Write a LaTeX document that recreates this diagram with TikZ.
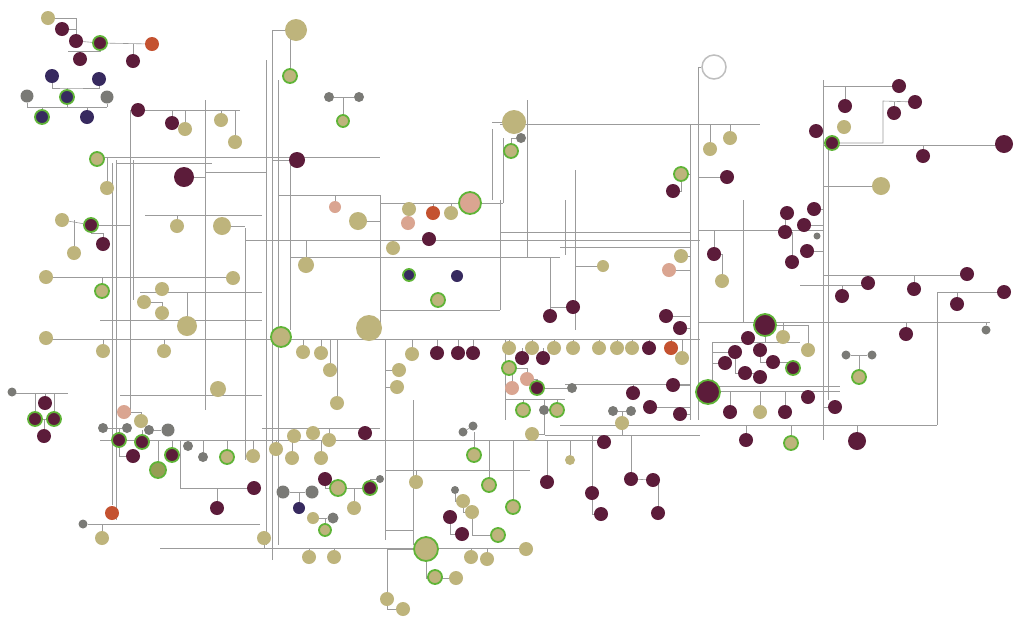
\documentclass[tikz,border=0pt]{standalone}
\usetikzlibrary{backgrounds}
\definecolor{cmar}{RGB}{92,28,58}
\definecolor{ctan}{RGB}{190,180,124}
\definecolor{cnav}{RGB}{55,42,95}
\definecolor{cgry}{RGB}{122,122,118}
\definecolor{corg}{RGB}{196,82,48}
\definecolor{cpnk}{RGB}{218,165,145}
\definecolor{colv}{RGB}{150,158,85}
\definecolor{cgrn}{RGB}{95,180,55}
\definecolor{cwr}{RGB}{190,190,190}
\definecolor{cln}{RGB}{155,155,155}
\newcommand\bus[5]{\coordinate (#1a) at (#2,#3); \coordinate (#1b) at (#4,#5); \draw[ln] (#1a) -- (#1b);}
\tikzset{
 sBase/.style={circle,inner sep=0pt,minimum size=14pt},
 sMar/.style={sBase,fill=cmar},
 sTan/.style={sBase,fill=ctan},
 sNav/.style={sBase,fill=cnav},
 sGry/.style={sBase,fill=cgry,minimum size=10pt},
 sOrg/.style={sBase,fill=corg},
 sPnk/.style={sBase,fill=cpnk},
 sOlv/.style={sBase,fill=colv},
 sWht/.style={sBase,fill=white,draw=cwr,line width=1.5pt,minimum size=24pt},
 ring/.style={draw=cgrn,line width=1.8pt},
 sz/.style={minimum size=#1pt},
 ln/.style={draw=cln,line width=0.6pt},
}
\begin{document}
\begin{tikzpicture}[x=1pt,y=-1pt]
\useasboundingbox (0,0) rectangle (1024,625);
% ---------- top-left
\node[sTan] (a1) at (48,18) {};
\node[sMar] (a2) at (62,29) {};
\node[sMar] (a3) at (76,41) {};
\node[sMar,ring] (a4) at (100,43) {};
\node[sOrg] (a5) at (152,44) {};
\node[sMar] (a6) at (80,59) {};
\node[sMar] (a7) at (133,61) {};
\node[sNav] (a8) at (52,76) {};
\node[sNav] (a9) at (99,79) {};
\node[sGry,sz=13] (a10) at (27,96) {};
\node[sNav,ring] (a11) at (67,97) {};
\node[sGry,sz=13] (a12) at (107,97) {};
\node[sNav,ring] (a13) at (42,117) {};
\node[sNav] (a14) at (87,117) {};
\node[sMar] (a15) at (138,110) {};
\node[sMar] (a16) at (172,123) {};
\node[sTan] (a17) at (185,129) {};
\node[sTan] (a18) at (235,142) {};
\node[sTan] (a19) at (221,120) {};
% ---------- left
\node[sTan,ring] (b1) at (97,159) {};
\node[sTan] (b2) at (107,188) {};
\node[sMar,sz=20] (b3) at (184,177) {};
\node[sTan] (b4) at (62,220) {};
\node[sMar,ring] (b5) at (91,225) {};
\node[sMar] (b6) at (103,244) {};
\node[sTan] (b7) at (74,253) {};
\node[sTan] (b8) at (177,226) {};
\node[sTan,sz=18] (b9) at (222,226) {};
\node[sTan] (b10) at (46,277) {};
\node[sTan,ring] (b11) at (102,291) {};
\node[sTan] (b12) at (233,278) {};
\node[sTan] (b13) at (162,289) {};
\node[sTan] (b14) at (144,302) {};
\node[sTan] (b15) at (162,313) {};
\node[sTan,sz=20] (b16) at (187,326) {};
\node[sTan] (b17) at (46,338) {};
\node[sTan] (b18) at (103,351) {};
\node[sTan] (b19) at (164,351) {};
% ---------- left lower
\node[sGry,sz=9] (c1) at (12,392) {};
\node[sMar] (c2) at (45,403) {};
\node[sMar,ring] (c3) at (35,419) {};
\node[sMar,ring] (c4) at (54,419) {};
\node[sMar] (c5) at (44,436) {};
\node[sTan,sz=16] (c6) at (218,389) {};
\node[sPnk] (c7) at (124,412) {};
\node[sTan] (c8) at (141,421) {};
\node[sGry] (c9) at (103,428) {};
\node[sGry] (c10) at (127,428) {};
\node[sGry] (c11) at (149,430) {};
\node[sGry,sz=13] (c12) at (168,430) {};
\node[sMar,ring] (c13) at (119,440) {};
\node[sMar,ring] (c14) at (142,442) {};
\node[sMar] (c15) at (133,456) {};
\node[sMar,ring] (c16) at (172,455) {};
\node[sOlv,ring,sz=16] (c17) at (158,470) {};
\node[sGry] (c18) at (188,446) {};
\node[sGry] (c19) at (203,457) {};
\node[sTan,ring] (c20) at (227,457) {};
\node[sTan] (c21) at (253,456) {};
\node[sMar] (c22) at (254,488) {};
\node[sMar] (c23) at (217,508) {};
\node[sOrg] (c24) at (112,513) {};
\node[sGry,sz=9] (c25) at (83,524) {};
\node[sTan] (c26) at (102,538) {};
% ---------- top centre
\node[sTan,sz=22] (d1) at (296,30) {};
\node[sTan,ring] (d2) at (290,76) {};
\node[sGry] (d3) at (329,97) {};
\node[sGry] (d4) at (359,97) {};
\node[sTan,ring,sz=12] (d5) at (343,121) {};
\node[sMar,sz=16] (d6) at (297,160) {};
\node[sTan,sz=16] (d7) at (306,265) {};
\node[sPnk,sz=12] (d8) at (335,207) {};
\node[sTan,sz=18] (d9) at (358,221) {};
\node[sTan,ring,sz=20] (d10) at (281,337) {};
\node[sTan,sz=26] (d11) at (369,328) {};
\node[sTan] (d12) at (303,352) {};
\node[sTan] (d13) at (321,353) {};
\node[sTan] (d14) at (330,370) {};
\node[sTan] (d15) at (337,403) {};
\node[sTan] (d16) at (399,370) {};
\node[sTan] (d17) at (397,387) {};
\node[sTan] (d18) at (412,354) {};
% ---------- bottom centre-left
\node[sTan] (e1) at (276,449) {};
\node[sTan] (e2) at (294,436) {};
\node[sTan] (e3) at (292,458) {};
\node[sTan] (e4) at (313,433) {};
\node[sTan] (e5) at (329,440) {};
\node[sTan] (e6) at (321,458) {};
\node[sMar] (e7) at (365,433) {};
\node[sGry,sz=13] (e8) at (283,492) {};
\node[sGry,sz=13] (e9) at (312,492) {};
\node[sNav,sz=12] (e10) at (299,508) {};
\node[sMar] (e11) at (325,479) {};
\node[sTan,ring,sz=16] (e12) at (338,488) {};
\node[sMar,ring] (e13) at (370,488) {};
\node[sGry,sz=8] (e14) at (380,479) {};
\node[sTan] (e15) at (354,508) {};
\node[sTan,sz=12] (e16) at (313,518) {};
\node[sGry,sz=11] (e17) at (333,518) {};
\node[sTan,ring,sz=12] (e18) at (325,530) {};
\node[sTan] (e19) at (264,538) {};
\node[sTan] (e20) at (309,557) {};
\node[sTan] (e21) at (334,557) {};
% ---------- centre
\node[sTan,sz=24] (f1) at (514,122) {};
\node[sGry] (f2) at (521,138) {};
\node[sTan,ring] (f3) at (511,151) {};
\node[sPnk,ring,sz=22] (f4) at (470,203) {};
\node[sTan] (f5) at (409,209) {};
\node[sPnk] (f6) at (408,223) {};
\node[sOrg] (f7) at (433,213) {};
\node[sTan] (f8) at (451,213) {};
\node[sMar] (f9) at (429,239) {};
\node[sTan] (f10) at (393,248) {};
\node[sNav,ring,sz=12] (f11) at (409,275) {};
\node[sNav,sz=12] (f12) at (457,276) {};
\node[sTan,ring] (f13) at (438,300) {};
\node[sMar] (f14) at (550,316) {};
\node[sMar] (f15) at (573,307) {};
\node[sTan,sz=12] (f16) at (603,266) {};
% ---------- centre row
\node[sMar] (g1) at (437,353) {};
\node[sMar] (g2) at (458,353) {};
\node[sMar] (g3) at (473,353) {};
\node[sTan] (g4) at (509,348) {};
\node[sTan] (g5) at (532,348) {};
\node[sTan] (g6) at (554,348) {};
\node[sTan] (g7) at (573,348) {};
\node[sTan] (g8) at (599,348) {};
\node[sTan] (g9) at (617,348) {};
\node[sTan] (g10) at (632,348) {};
\node[sMar] (g11) at (649,348) {};
\node[sOrg] (g12) at (671,348) {};
\node[sTan] (g13) at (682,358) {};
\node[sMar] (g14) at (680,328) {};
\node[sMar] (g15) at (666,316) {};
\node[sMar] (g16) at (522,358) {};
\node[sMar] (g17) at (543,358) {};
\node[sTan,ring] (g18) at (509,368) {};
\node[sPnk] (g19) at (527,379) {};
\node[sPnk] (g20) at (512,388) {};
\node[sMar,ring] (g21) at (537,388) {};
\node[sGry] (g22) at (572,388) {};
\node[sTan,ring] (g23) at (523,410) {};
\node[sGry] (g24) at (544,410) {};
\node[sTan,ring] (g25) at (557,410) {};
\node[sTan] (g26) at (532,434) {};
\node[sMar] (g27) at (604,442) {};
\node[sGry] (g28) at (613,411) {};
\node[sGry] (g29) at (631,411) {};
\node[sTan] (g30) at (622,423) {};
\node[sMar] (g31) at (633,393) {};
\node[sMar] (g32) at (650,407) {};
\node[sMar] (g33) at (673,385) {};
\node[sMar] (g34) at (680,414) {};
% ---------- lower centre
\node[sGry,sz=9] (h1) at (463,432) {};
\node[sGry,sz=9] (h2) at (473,426) {};
\node[sTan,ring] (h3) at (474,455) {};
\node[sTan] (h4) at (416,482) {};
\node[sGry,sz=8] (h5) at (455,490) {};
\node[sTan] (h6) at (463,501) {};
\node[sTan] (h7) at (472,512) {};
\node[sMar] (h8) at (450,517) {};
\node[sMar] (h9) at (462,534) {};
\node[sTan,ring] (h10) at (489,485) {};
\node[sTan,ring] (h11) at (513,507) {};
\node[sTan,ring] (h12) at (498,535) {};
\node[sMar] (h13) at (547,482) {};
\node[sTan,ring,sz=24] (h15) at (426,549) {};
\node[sTan] (h16) at (471,557) {};
\node[sTan] (h17) at (487,559) {};
\node[sTan] (h18) at (526,549) {};
\node[sTan,ring] (h19) at (435,577) {};
\node[sTan] (h20) at (456,578) {};
\node[sTan] (h21) at (387,599) {};
\node[sTan] (h22) at (403,609) {};
\node[sTan,sz=10] (h23) at (570,460) {};
% ---------- right centre
\node[sWht] (i1) at (714,67) {};
\node[sTan] (i2) at (730,138) {};
\node[sTan] (i3) at (710,149) {};
\node[sTan,ring] (i4) at (681,174) {};
\node[sMar] (i5) at (673,191) {};
\node[sMar] (i6) at (727,177) {};
\node[sMar] (i7) at (714,254) {};
\node[sTan] (i8) at (722,281) {};
\node[sTan] (i9) at (681,256) {};
\node[sPnk] (i10) at (669,270) {};
\node[sMar,ring,sz=22] (i11) at (765,325) {};
\node[sTan] (i12) at (783,337) {};
\node[sMar] (i13) at (748,338) {};
\node[sMar] (i14) at (735,352) {};
\node[sMar] (i15) at (760,350) {};
\node[sTan] (i16) at (808,350) {};
\node[sMar] (i17) at (773,362) {};
\node[sMar] (i18) at (725,363) {};
\node[sMar,ring] (i19) at (793,368) {};
\node[sMar] (i20) at (745,373) {};
\node[sMar] (i21) at (760,377) {};
\node[sMar,ring,sz=24] (i22) at (708,392) {};
\node[sMar] (i24) at (730,412) {};
\node[sTan] (i25) at (760,412) {};
\node[sMar] (i26) at (785,412) {};
\node[sMar] (i27) at (808,397) {};
\node[sMar] (i28) at (835,407) {};
\node[sMar] (i29) at (746,440) {};
\node[sTan,ring] (i30) at (791,443) {};
\node[sMar,sz=18] (i31) at (857,441) {};
% ---------- lower right
\node[sMar] (j1) at (592,493) {};
\node[sMar] (j2) at (601,514) {};
\node[sMar] (j3) at (631,479) {};
\node[sMar] (j4) at (653,480) {};
\node[sMar] (j5) at (658,513) {};
% ---------- right
\node[sMar] (k1) at (899,86) {};
\node[sMar] (k2) at (915,102) {};
\node[sMar] (k3) at (894,113) {};
\node[sMar] (k4) at (845,106) {};
\node[sTan] (k5) at (844,127) {};
\node[sMar] (k6) at (816,131) {};
\node[sMar,ring] (k7) at (832,143) {};
\node[sMar] (k8) at (923,156) {};
\node[sMar,sz=18] (k9) at (1004,144) {};
\node[sTan,sz=18] (k10) at (881,186) {};
\node[sMar] (k11) at (814,209) {};
\node[sMar] (k12) at (804,225) {};
\node[sGry,sz=7] (k13) at (817,236) {};
\node[sMar] (k14) at (807,251) {};
\node[sMar] (k15) at (787,213) {};
\node[sMar] (k16) at (785,232) {};
\node[sMar] (k17) at (792,262) {};
\node[sMar] (k18) at (967,274) {};
\node[sMar] (k19) at (868,283) {};
\node[sMar] (k20) at (842,296) {};
\node[sMar] (k21) at (914,289) {};
\node[sMar] (k22) at (1004,292) {};
\node[sMar] (k23) at (957,304) {};
\node[sMar] (k24) at (906,334) {};
\node[sGry,sz=9] (k25) at (986,330) {};
\node[sGry,sz=9] (k26) at (846,355) {};
\node[sGry,sz=9] (k27) at (872,355) {};
\node[sTan,ring] (k28) at (859,377) {};

\begin{pgfonlayer}{background}
\fill[white] (0,0) rectangle (1024,625);
% top-left
\draw[ln] (a1) -| (a3);
\draw[ln] (a2) -| (a3);
\draw[ln] (a3) -- (a4);
\draw[ln] (a4) -- (a5);
\draw[ln] (a7) -- (a7 |- a5);
\coordinate (t1) at (68,51);
\draw[ln] (a4) |- (t1);
\draw[ln] (a6) -- (a6 |- t1);
\coordinate (t2) at (67,88);
\draw[ln] (a8) |- (t2) -| (a9);
\draw[ln] (t2) -- (a11);
\bus{h107}{27}{107}{107}{107}
\draw[ln] (a10) -- (a10 |- h107a);
\draw[ln] (a12) -- (a12 |- h107a);
\draw[ln] (a11) -- (a11 |- h107a);
\draw[ln] (a13) -- (a13 |- h107a);
\draw[ln] (a14) -- (a14 |- h107a);
\bus{h110}{138}{110}{240}{110}
\draw[ln] (a16) -- (a16 |- h110a);
\draw[ln] (a17) -- (a17 |- h110a);
\draw[ln] (a19) -- (a19 |- h110a);
\draw[ln] (a18) -- (a18 |- h110a);
\bus{v130}{130}{110}{130}{415}
% left
\bus{h157}{97}{157}{380}{157}
\bus{v112}{112}{163}{112}{505}
\bus{v116}{116}{160}{116}{520}
\bus{v133}{133}{160}{133}{300}
\bus{v205}{205}{100}{205}{410}
\bus{v245}{245}{228}{245}{460}
\bus{h163}{116}{163}{212}{163}
\bus{h215}{145}{215}{262}{215}
\bus{h172}{205}{172}{266}{172}
\draw[ln] (b2) -- (b2 |- h157a);
\draw[ln] (b3) -- (b3 -| v205a);
\draw[ln] (b8) -- (b8 |- h215a);
\draw[ln] (b9) -- (b9 -| v245a);
\draw[ln] (b4) -- (b5);
\draw[ln] (b5) -- (b5 -| v130a);
\coordinate (t3) at (91,233);
\draw[ln] (b5) -- (t3) -| (b6);
\draw[ln] (b7) -- (b7 |- b4);
\bus{h277}{46}{277}{240}{277}
\draw[ln] (b11) -- (b11 |- h277a);
\bus{h292}{140}{292}{262}{292}
\draw[ln] (b16) -- (b16 |- h292a);
\draw[ln] (b14) -| (b15);
\bus{h320}{100}{320}{262}{320}
\bus{h339}{46}{339}{700}{339}
\draw[ln] (b18) -- (b18 |- h339a);
\draw[ln] (b19) -- (b19 |- h339a);
% left lower
\bus{h393}{16}{393}{68}{393}
\draw[ln] (c2) -- (c2 |- h393a);
\draw[ln] (c3) -- (c3 |- h393a);
\draw[ln] (c4) -- (c4 |- h393a);
\draw[ln] (c3) -- (c4);
\draw[ln] (c5) -- (c5 |- c3);
\draw[ln] (c7) -| (c8);
\draw[ln] (c9) -- (c10);
\draw[ln] (c13) -- (c13 |- c9);
\draw[ln] (c11) -- (c12);
\draw[ln] (c14) -- (c14 |- c11);
\draw[ln] (c13) |- (c15);
\bus{h440}{100}{440}{600}{440}
\draw[ln] (c16) -- (c16 |- h440a);
\draw[ln] (c17) -- (c17 |- h440a);
\draw[ln] (c18) -- (c18 |- h440a);
\draw[ln] (c19) -- (c19 |- h440a);
\draw[ln] (c20) -- (c20 |- h440a);
\draw[ln] (c21) -- (c21 |- h440a);
\coordinate (t4) at (180,440);
\draw[ln] (t4) |- (c22);
\draw[ln] (c23) -- (c23 |- c22);
\bus{h524}{88}{524}{260}{524}
\draw[ln] (c26) -- (c26 |- h524a);
\bus{h395}{120}{395}{262}{395}
% top centre
\bus{v272}{272}{30}{272}{560}
\bus{v266}{266}{60}{266}{545}
\bus{v278}{278}{80}{278}{545}
\draw[ln] (d1) -- (d1 -| v272a);
\draw[ln] (d2) -- (d2 |- d1);
\draw[ln] (d3) -- (d4);
\draw[ln] (d5) -- (d5 |- d3);
\draw[ln] (d6) -- (d6 -| v272a);
\bus{v380}{380}{195}{380}{330}
\bus{h195}{278}{195}{380}{195}
\bus{h240}{245}{240}{700}{240}
\bus{h257}{290}{257}{560}{257}
\bus{v290}{290}{160}{290}{330}
\draw[ln] (d7) -- (d7 |- h240a);
\draw[ln] (d8) -- (d8 |- h195a);
\draw[ln] (d9) -- (d9 -| v380a);
\draw[ln] (d10) -- (d10 -| v290a);
\draw[ln] (d12) -- (d12 |- h339a);
\draw[ln] (d13) -- (d13 |- h339a);
\draw[ln] (d14) -- (d14 |- h339a);
\draw[ln] (d15) -- (d15 |- h339a);
\bus{v385}{385}{339}{385}{540}
\draw[ln] (d16) -- (d16 -| v385a);
\draw[ln] (d17) -- (d17 -| v385a);
\draw[ln] (d18) -- (d18 |- h339a);
% bottom centre-left
\bus{h428}{262}{428}{380}{428}
\draw[ln] (e2) -- (e2 |- h428a);
\draw[ln] (e4) -- (e4 |- h428a);
\draw[ln] (e5) -- (e5 |- h428a);
\draw[ln] (e7) -- (e7 |- h428a);
\draw[ln] (e1) -- (e1 |- h440a);
\draw[ln] (e3) -- (e3 |- h440a);
\draw[ln] (e6) -- (e6 |- h440a);
\draw[ln] (e8) -- (e9);
\draw[ln] (e10) -- (e10 |- e8);
\draw[ln] (e11) |- (e12);
\draw[ln] (e12) -- (e13);
\draw[ln] (e13) |- (e14);
\draw[ln] (e15) -- (e15 |- e12);
\draw[ln] (e16) -- (e17);
\draw[ln] (e18) -- (e18 |- e16);
\bus{h548}{160}{548}{530}{548}
\draw[ln] (e19) -- (e19 |- h548a);
\draw[ln] (e20) -- (e20 |- h548a);
\draw[ln] (e21) -- (e21 |- h548a);
% centre
\bus{h124}{500}{124}{760}{124}
\bus{v492}{492}{129}{492}{200}
\bus{v503}{503}{138}{503}{203}
\bus{v527}{527}{100}{527}{257}
\draw[ln] (f1) -- (f1 -| v492a);
\draw[ln] (f3) |- (f2);
\draw[ln] (f4) -- (f4 -| v380a);
\draw[ln] (f4) -- (f4 -| v503a);
\draw[ln] (f5) -- (f5 |- f4);
\draw[ln] (f7) -- (f7 |- f4);
\draw[ln] (f8) -- (f8 |- f4);
\draw[ln] (f6) -- (f6 |- f5);
\draw[ln] (f10) -- (f10 |- h240a);
\draw[ln] (f14) |- (f15);
\draw[ln] (f14) -- (f14 |- h257a);
\bus{v575}{575}{170}{575}{330}
\draw[ln] (f16) -- (f16 -| v575a);
\bus{h310}{380}{310}{500}{310}
\bus{v500}{500}{200}{500}{310}
\bus{h232}{500}{232}{690}{232}
\bus{h247}{560}{247}{690}{247}
\bus{v565}{565}{200}{565}{255}
% centre row
\draw[ln] (g1) -- (g1 |- h339a);
\draw[ln] (g2) -- (g2 |- h339a);
\draw[ln] (g3) -- (g3 |- h339a);
\draw[ln] (g4) -- (g4 |- h339a);
\draw[ln] (g5) -- (g5 |- h339a);
\draw[ln] (g6) -- (g6 |- h339a);
\draw[ln] (g7) -- (g7 |- h339a);
\draw[ln] (g8) -- (g8 |- h339a);
\draw[ln] (g9) -- (g9 |- h339a);
\draw[ln] (g10) -- (g10 |- h339a);
\draw[ln] (g11) -- (g11 |- h339a);
\draw[ln] (g12) -- (g12 |- h339a);
\draw[ln] (g13) -- (g13 |- h339a);
\draw[ln] (g16) -- (g16 |- g4);
\draw[ln] (g17) -- (g17 |- g5);
\draw[ln] (g18) -| (g19);
\draw[ln] (g19) -| (g21);
\draw[ln] (g20) -- (g20 |- g18);
\draw[ln] (g21) -- (g22);
\bus{h399}{505}{399}{565}{399}
\draw[ln] (g23) -- (g23 |- h399a);
\draw[ln] (g24) -- (g24 |- h399a);
\draw[ln] (g25) -- (g25 |- h399a);
\draw[ln] (g24) |- (g26);
\bus{v505}{505}{339}{505}{420}
\bus{v690}{690}{124}{690}{420}
\bus{v698}{698}{67}{698}{420}
\draw[ln] (g15) -- (g15 -| v690a);
\draw[ln] (g14) -- (g14 -| v690a);
\draw[ln] (g28) -- (g29);
\draw[ln] (g30) -- (g30 |- g28);
\bus{h435}{545}{435}{700}{435}
\draw[ln] (g30) -- (g30 |- h435a);
\bus{h384}{565}{384}{690}{384}
\draw[ln] (g31) -- (g31 |- h384a);
\draw[ln] (g32) -- (g32 -| v690a);
\draw[ln] (g33) -- (g33 -| v690a);
\draw[ln] (g34) -- (g34 -| v690a);
% lower centre
\draw[ln] (h1) -- (h2);
\draw[ln] (h3) -- (h3 |- h1);
\bus{v413}{413}{400}{413}{545}
\bus{h470}{385}{470}{530}{470}
\draw[ln] (h4) -- (h4 |- h470a);
\draw[ln] (h5) |- (h6);
\draw[ln] (h6) |- (h7);
\draw[ln] (h8) |- (h9);
\draw[ln] (h10) -- (h10 |- h440a);
\draw[ln] (h11) -- (h11 |- h440a);
\draw[ln] (h13) -- (h13 |- h440a);
\draw[ln] (h12) -| (h7);
\draw[ln] (h16) -- (h16 |- h548a);
\draw[ln] (h17) -- (h17 |- h548a);
\draw[ln] (h15) |- (h20);
\draw[ln] (h21) |- (h15);
\draw[ln] (h22) -| (h21);
\draw[ln] (h23) -- (h23 |- h440a);
\bus{h530}{385}{530}{413}{530}
% right centre
\draw[ln] (i1) -- (i1 -| v698a);
\draw[ln] (i2) -- (i2 |- h124a);
\draw[ln] (i3) -- (i3 |- h124a);
\draw[ln] (i4) -- (i4 -| v690a);
\draw[ln] (i4) |- (i5);
\draw[ln] (i6) -- (i6 -| v698a);
\bus{v743}{743}{200}{743}{322}
\bus{h230}{698}{230}{823}{230}
\draw[ln] (i7) -- (i7 |- h230a);
\draw[ln] (i8) |- (i7);
\draw[ln] (i9) -- (i9 -| v690a);
\draw[ln] (i10) -- (i10 -| v690a);
\bus{h322}{698}{322}{990}{322}
\draw[ln] (i12) -- (i12 |- h322a);
\bus{h342}{712}{342}{800}{342}
\bus{v712}{712}{342}{712}{392}
\draw[ln] (i11) -- (i11 |- h342a);
\draw[ln] (i18) -- (i18 -| v712a);
\draw[ln] (i14) -- (i14 -| v712a);
\draw[ln] (i11) -| (i16);
\draw[ln] (i15) |- (i17);
\draw[ln] (i17) -| (i19);
\draw[ln] (i20) -| (i21);
\draw[ln] (i14) |- (i20);
\bus{h386}{698}{386}{840}{386}
\bus{h391}{720}{391}{840}{391}
\draw[ln] (i24) -- (i24 |- h391a);
\draw[ln] (i25) -- (i25 |- h391a);
\draw[ln] (i26) -- (i26 |- h391a);
\bus{v823}{823}{80}{823}{440}
\bus{v828}{828}{140}{828}{400}
\draw[ln] (i28) -- (i28 -| v823a);
\bus{h425}{560}{425}{937}{425}
\draw[ln] (i29) -- (i29 |- h425a);
\draw[ln] (i30) -- (i30 |- h425a);
\draw[ln] (i31) -- (i31 |- h425a);
% lower right
\draw[ln] (j1) |- (j2);
\draw[ln] (j1) -- (j1 |- h435a);
\draw[ln] (j3) -- (j4);
\draw[ln] (j5) -- (j5 |- j3);
\draw[ln] (j3) -- (j3 |- h435a);
% right
\draw[ln] (k1) -- (k1 -| v823a);
\draw[ln] (k4) -- (k4 |- k1);
\coordinate (t8) at (883,101);
\draw[ln] (k2) -- (t8) |- (k7);
\draw[ln] (k3) -- (k3 |- k2);
\draw[ln] (k6) -- (k6 -| v823a);
\bus{h145}{823}{145}{1004}{145}
\draw[ln] (k8) -- (k8 |- h145a);
\draw[ln] (k10) -- (k10 -| v823a);
\draw[ln] (k11) -- (k11 -| v823a);
\draw[ln] (k12) -- (k12 -| v823a);
\draw[ln] (k14) -- (k14 -| v823a);
\draw[ln] (k15) -| (k16);
\draw[ln] (k16) -| (k17);
\bus{h275}{823}{275}{968}{275}
\draw[ln] (k21) -- (k21 |- h275a);
\bus{h285}{800}{285}{868}{285}
\draw[ln] (k20) -- (k20 |- h285a);
\bus{v937}{937}{292}{937}{425}
\draw[ln] (k22) -- (k22 -| v937a);
\draw[ln] (k23) -- (k23 |- k22);
\draw[ln] (k24) -- (k24 |- h322a);
\draw[ln] (k25) -- (k25 |- h322a);
\draw[ln] (k26) -- (k27);
\draw[ln] (k28) -- (k28 |- k26);
\end{pgfonlayer}
\end{tikzpicture}
\end{document}
